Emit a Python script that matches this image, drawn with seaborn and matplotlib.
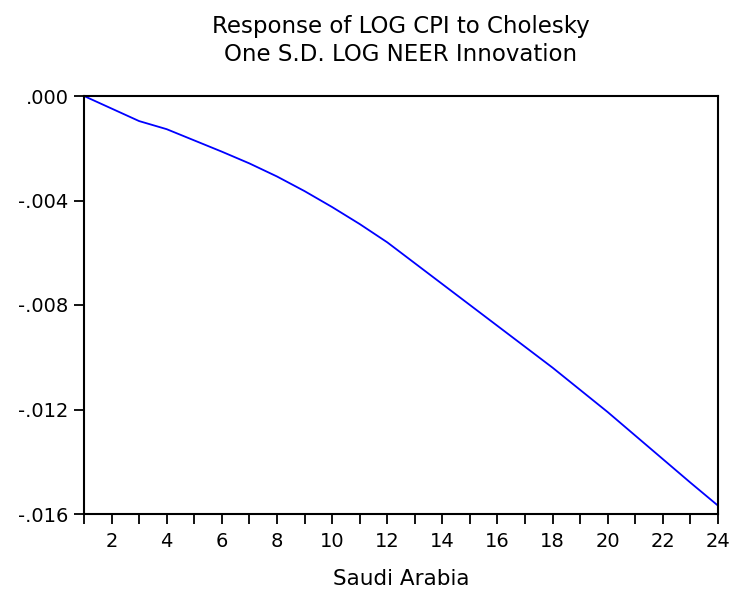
import matplotlib
matplotlib.use("Agg")
import matplotlib.pyplot as plt
import seaborn as sns
import pandas as pd
from matplotlib.ticker import MultipleLocator, FuncFormatter

periods = list(range(1, 25))
response = [0.0, -0.00048, -0.00096, -0.00127, -0.00170, -0.00213, -0.00258,
            -0.00308, -0.00364, -0.00425, -0.00490, -0.00560, -0.00640,
            -0.00720, -0.00800, -0.00880, -0.00960, -0.01040, -0.01125,
            -0.01210, -0.01300, -0.01390, -0.01480, -0.01568]
title = "Response of LOG CPI to Cholesky\nOne S.D. LOG NEER Innovation"
xlabel = "Saudi Arabia"
yticks = [0.0, -0.004, -0.008, -0.012, -0.016]

sns.set_style("ticks")
plt.rcParams['font.family'] = ['DejaVu Sans']
plt.rcParams['text.color'] = 'black'
plt.rcParams['axes.labelcolor'] = 'black'

df = pd.DataFrame({"period": periods, "response": response})

fig = plt.figure(figsize=(7.35, 5.92), dpi=100)
ax = fig.add_axes([84/735, 1 - 514/592, (718-84)/735, (514-96)/592])
sns.lineplot(data=df, x="period", y="response", ax=ax, color="#0000FF", linewidth=1.3)

ax.set_xlim(1, 24)
ax.set_ylim(-0.016, 0.0)
ax.xaxis.set_major_locator(MultipleLocator(2))
ax.xaxis.set_minor_locator(MultipleLocator(1))
ax.set_yticks(yticks)

def yfmt(v, pos):
    s = f"{v:.3f}"
    s = s.replace("0.", ".")
    if s == "-.000":
        s = ".000"
    return s

ax.yaxis.set_major_formatter(FuncFormatter(yfmt))
ax.tick_params(axis="both", which="both", direction="out", width=1.3, length=7,
               labelsize=14, colors="black", top=False, right=False)
ax.tick_params(axis="x", which="both", pad=6)
ax.tick_params(axis="y", which="both", pad=4)
for sp in ax.spines.values():
    sp.set_visible(True)
    sp.set_linewidth(1.5)
    sp.set_color("black")

ax.set_xlabel(xlabel, fontsize=15.5, labelpad=13, color="black")
ax.set_ylabel("")
ax.set_title(title, fontsize=16.5, pad=25, linespacing=1.3, color="black")

fig.savefig("out.png", dpi=100)
